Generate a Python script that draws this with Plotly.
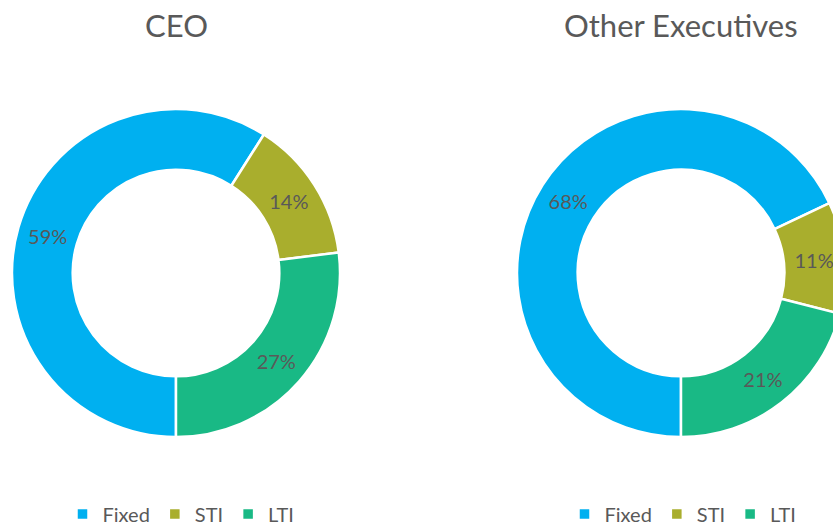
import plotly.graph_objects as go

categories = ["Fixed", "STI", "LTI"]
ceo_values = [59, 14, 27]
other_values = [68, 11, 21]
titles = ["CEO", "Other Executives"]
colors = ["#00B0F0", "#A9AE2D", "#19B985"]

W, H = 870, 550
TXT = "#595959"
FONT = "Lato"

fig = go.Figure()

def dom(cx, cy, r):
    return dict(x=[(cx - r) / W, (cx + r) / W], y=[1 - (cy + r) / H, 1 - (cy - r) / H])

# second chart uses the same categories; a zero-width suffix keeps its legend entries separate
for vals, cx, lg, suffix in [(ceo_values, 176, "legend", ""), (other_values, 681, "legend2", "\u200b")]:
    fig.add_trace(go.Pie(
        labels=[c + suffix for c in categories], values=vals, hole=0.63, sort=False,
        direction="clockwise", rotation=180,
        marker=dict(colors=colors, line=dict(color="white", width=2.5)),
        textinfo="percent", textposition="inside",
        insidetextorientation="horizontal",
        textfont=dict(family=FONT, size=20, color=TXT),
        domain=dom(cx, 273, 164), legend=lg, hoverinfo="label+percent",
    ))

for t, cx in zip(titles, [176, 681]):
    fig.add_annotation(text=t, x=cx / W, y=1 - 25 / H, xref="paper", yref="paper",
                       xanchor="center", yanchor="middle", showarrow=False,
                       font=dict(family=FONT, size=31, color=TXT))

leg = dict(orientation="h", xanchor="center", yanchor="middle", y=1 - 514 / H,
           font=dict(family=FONT, size=20, color=TXT), bgcolor="rgba(0,0,0,0)",
           itemclick=False)
fig.update_layout(
    width=W, height=H, margin=dict(l=0, r=0, t=0, b=0),
    paper_bgcolor="white", plot_bgcolor="white",
    legend=dict(leg, x=181 / W),
    legend2=dict(leg, x=683 / W),
)

fig.write_html("out.html", config={"displayModeBar": False}, post_script=(
    "document.documentElement.style.overflow='hidden';"
    "document.body.style.overflow='hidden';document.body.style.margin='0';"))
